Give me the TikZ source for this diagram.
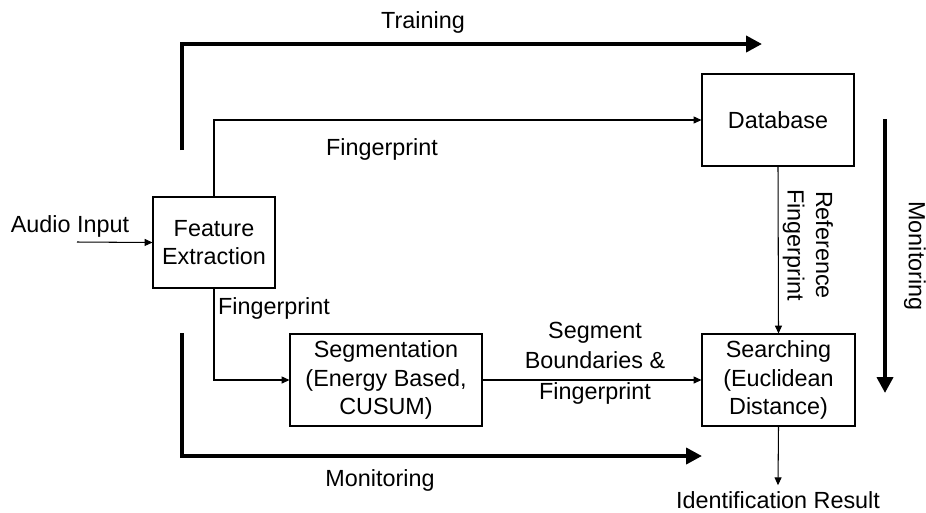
\documentclass[tikz,border=0pt]{standalone}
\usepackage{fontspec}
\setmainfont{Liberation Sans}
\usetikzlibrary{arrows.meta}

\begin{document}
\begin{tikzpicture}[x=0.02cm,y=-0.02cm,
  font=\fontsize{13.3}{16.2}\selectfont,
  box/.style={draw,line width=0.6pt,align=center,minimum height=1.84cm,inner sep=0pt},
  thinarr/.style={line width=0.6pt,-{Triangle[length=4.5pt,width=4pt]}},
  thickarr/.style={line width=2.2pt,-{Triangle[length=9pt,width=9pt]}}]
  \useasboundingbox (0,0) rectangle (926,512);
  % blocks
  \node[box,minimum width=2.44cm,minimum height=1.82cm] (fe) at (214,242.5) {Feature\\Extraction};
  \node[box,minimum width=3.04cm] (db) at (778,120) {Database};
  \node[box,minimum width=3.84cm] (seg) at (386,380) {Segmentation\\(Energy Based,\\CUSUM)};
  \node[box,minimum width=3.06cm] (srch) at (778.5,380) {Searching\\(Euclidean\\Distance)};
  \node (res) at (778,500) {Identification Result};
  % free ends
  \coordinate (in) at (77,242);
  \coordinate (trA) at (182,150);
  \coordinate (trB) at (762,44);
  \coordinate (moA) at (182,333);
  \coordinate (moB) at (702,456);
  \coordinate (mrA) at (885,119);
  \coordinate (mrB) at (885,393);
  % thin connectors
  \draw[thinarr] (in) -- (fe.west);
  \draw[thinarr] (fe.north) |- (db.west);
  \draw[thinarr] (fe.south) |- (seg.west);
  \draw[thinarr] (seg.east) -- (srch.west);
  \draw[thinarr] (db.south) -- (srch.north);
  \draw[thinarr] (srch.south) -- (res.north);
  % thick flows
  \draw[thickarr] (trA) |- (trB);
  \draw[thickarr] (moA) |- (moB);
  \draw[thickarr] (mrA) -- (mrB);
  % labels
  \node (lblin) at (70,226) {Audio Input};
  \node (lbltr) at (423,22) {Training};
  \node (lblfp1) at (382,149) {Fingerprint};
  \node (lblfp2) at (274,308) {Fingerprint};
  \node[align=center,font=\fontsize{13.3}{17.5}\selectfont] (lblseg) at (595,363) {Segment\\Boundaries \&\\Fingerprint};
  \node[rotate=-90,align=center] (lblref) at (808,245) {Reference\\Fingerprint};
  \node (lblmo) at (380,480) {Monitoring};
  \node[rotate=-90] (lblmr) at (915,256) {Monitoring};
\end{tikzpicture}
\end{document}
